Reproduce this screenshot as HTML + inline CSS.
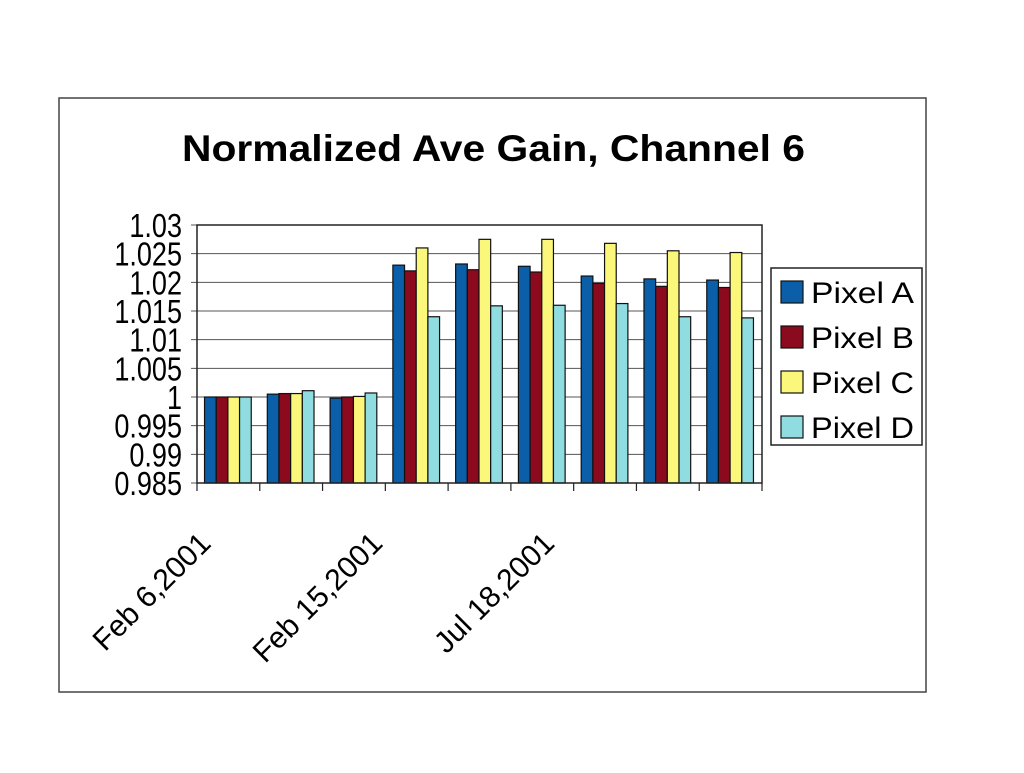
<!DOCTYPE html>
<html><head><meta charset="utf-8"><style>
body{margin:0;background:#fff;}
svg text{font-family:"Liberation Sans",Arial,sans-serif;}
</style></head><body>
<svg width="1024" height="768" viewBox="0 0 1024 768">
<rect x="59" y="98" width="867" height="594" fill="#fff" stroke="#444" stroke-width="1.5"/>
<text x="182" y="161" font-size="37" font-weight="bold" textLength="623" lengthAdjust="spacingAndGlyphs">Normalized Ave Gain, Channel 6</text>
<g id="grid"></g><g id="bars"></g><g id="axes"></g>
<g>
<rect x="771" y="268" width="151" height="177" fill="#fff" stroke="#222" stroke-width="1.5"/>
<g id="legend"></g>
</g>
</svg>
<script>
const categories=["Feb 6,2001","","","Feb 15,2001","","","Jul 18,2001","",""];
const seriesNames=["Pixel A","Pixel B","Pixel C","Pixel D"];
const pixelA=[1.0,1.0005,0.9998,1.023,1.0232,1.0228,1.0211,1.0206,1.0204];
const pixelB=[1.0,1.0006,1.0,1.022,1.0222,1.0218,1.0198,1.0193,1.0191];
const pixelC=[1.0,1.0006,1.0001,1.026,1.0275,1.0275,1.0268,1.0255,1.0252];
const pixelD=[1.0,1.0011,1.0007,1.014,1.0159,1.016,1.0163,1.014,1.0138];
const yTicks=["1.03","1.025","1.02","1.015","1.01","1.005","1","0.995","0.99","0.985"];
const colors=["#0b5ea8","#8b0a1e","#fbf77a","#8fdde0"];
const series=[pixelA,pixelB,pixelC,pixelD];
const L=197,R=762,T=225,B=483,yMin=0.985,yMax=1.03;
const NS="http://www.w3.org/2000/svg";
function y(v){return B-(v-yMin)/(yMax-yMin)*(B-T);}
const gw=(R-L)/categories.length;
function mk(t,a,p){const e=document.createElementNS(NS,t);for(const k in a)e.setAttribute(k,a[k]);p.appendChild(e);return e;}
const grid=document.getElementById('grid'),bars=document.getElementById('bars'),axes=document.getElementById('axes'),leg=document.getElementById('legend');
yTicks.forEach(t=>{const v=parseFloat(t),yy=y(v);
 const l=mk('line',{x1:L-6,x2:R,y1:yy,y2:yy,stroke:'#555','stroke-width':1},grid);
 
 
 const tx=mk('text',{x:0,y:0,'text-anchor':'end','font-size':33,transform:`translate(182 ${yy+12}) scale(0.82 1)`},axes);tx.textContent=t;
 
 
});
const bw=gw*0.8/4*0.93, off=gw*0.12;
categories.forEach((c,i)=>{
 series.forEach((s,j)=>{const x=L+i*gw+off+j*bw,yy=y(s[i]);
  const r=mk('rect',{x:x,y:Math.min(yy,B),width:bw,height:Math.abs(B-yy),fill:colors[j],stroke:'#111','stroke-width':1.2},bars);
  
  
 });
 const tk=mk('line',{x1:L+i*gw,x2:L+i*gw,y1:B,y2:B+8,stroke:'#222','stroke-width':1.2},axes);
 
 
 if(c){const cx=L+(i+0.5)*gw-16-5.5*i,cy=B+62;
  const tx=mk('text',{x:cx,y:cy,'text-anchor':'end','font-size':30,transform:`rotate(-45 ${cx} ${cy})`},axes);tx.textContent=c;
  
  }
});
mk('line',{x1:R,x2:R,y1:B,y2:B+8,stroke:'#222','stroke-width':1.2},axes);
mk('rect',{x:L,y:T,width:R-L,height:B-T,fill:'none',stroke:'#222','stroke-width':1.5},axes);
seriesNames.forEach((n,j)=>{const yy=281+j*45;
 const r=mk('rect',{x:781,y:yy,width:22,height:22,fill:colors[j],stroke:'#111','stroke-width':1.2},leg);
 
 
 const t=mk('text',{x:811,y:yy+22,'font-size':30,textLength:103,lengthAdjust:'spacingAndGlyphs'},leg);t.textContent=n;
 
 
});
</script>
</body></html>
